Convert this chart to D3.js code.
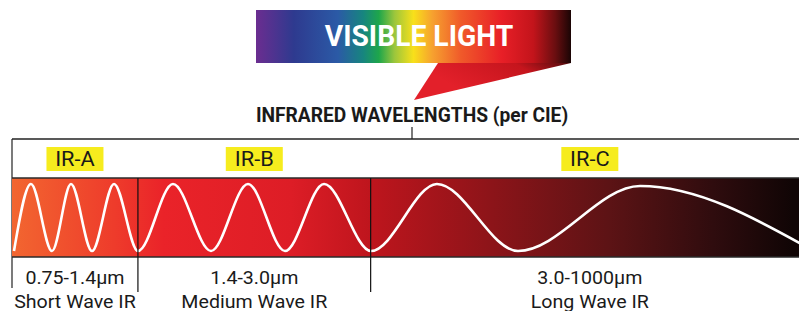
<!DOCTYPE html>
<html>
<head>
<meta charset="utf-8">
<script src="https://cdn.jsdelivr.net/npm/d3@7"></script>
<style>
  body { margin: 0; background: #fff; }
  #visualization { width: 799px; height: 311px; }
  text { font-family: Roboto, 'Liberation Sans', sans-serif; }
</style>
</head>
<body>
<div id="visualization"></div>
<script>
// Band data
const bandNames = ['IR-A', 'IR-B', 'IR-C'];
const bandRanges = ['0.75-1.4µm', '1.4-3.0µm', '3.0-1000µm'];
const bandTitles = ['Short Wave IR', 'Medium Wave IR', 'Long Wave IR'];
const bandEdges = [0, 15.8, 45.0, 100];   // position along the bar, 0-100

// Wave extrema (position along the bar, amplitude -1..1)
const waveX = [0.25, 2.38, 5.02, 7.40, 10.04, 12.80, 15.81, 20.20, 24.97, 29.61, 34.25, 39.15, 45.04, 53.32, 63.49, 78.80, 100.6];
const waveY = [-1, 1, -1, 1, -1, 1, -1, 1, -1, 1, -1, 1, -1, 1, -1, 0.94, -1];

// Text
const spectrumLabel = 'VISIBLE LIGHT';
const titleLabel = 'INFRARED WAVELENGTHS (per CIE)';

class InfraredChart {
    constructor() {
        this.width = 799;
        this.height = 311;
        this.init();
    }

    init() {
        this.svg = d3.select('#visualization')
            .append('svg')
            .attr('width', this.width)
            .attr('height', this.height);

        this.defs = this.svg.append('defs');

        // Scales
        this.x = d3.scaleLinear().domain([0, 100]).range([12, 809]);
        this.y = d3.scaleLinear().domain([-1, 1]).range([251, 184]);
        this.bandTop = 178;
        this.bandBottom = 257;

        this.drawSpectrum();
        this.drawBracket();
        this.drawBand();
        this.drawLabels();
    }

    gradient(id, stops, x2 = '100%', y2 = '0%') {
        const g = this.defs.append('linearGradient')
            .attr('id', id)
            .attr('x1', '0%').attr('y1', '0%')
            .attr('x2', x2).attr('y2', y2);
        g.selectAll('stop')
            .data(stops)
            .enter()
            .append('stop')
            .attr('offset', d => d[0])
            .attr('stop-color', d => d[1]);
    }

    drawSpectrum() {
        this.gradient('spectrum', [
            [0, '#6b2d90'], [0.12, '#2e3a8f'], [0.26, '#2b5aa6'],
            [0.34, '#17857f'], [0.39, '#1ea64b'], [0.44, '#9cc63c'],
            [0.50, '#f8e01a'], [0.56, '#f6a12f'], [0.65, '#f05a2a'],
            [0.78, '#e81f27'], [0.88, '#c3141b'], [0.95, '#6a0e10'], [1, '#1a0505']
        ]);
        this.gradient('pointer', [[0, '#e3202a'], [0.55, '#c5151d'], [1, '#1c0606']], '100%', '-40%');

        const left = 256, right = 571, top = 10, bottom = 63;

        this.svg.append('path')
            .attr('d', `M438,${bottom} L${right},${bottom} L414,100 Z`)
            .attr('fill', 'url(#pointer)');

        this.svg.append('rect')
            .attr('x', left).attr('y', top)
            .attr('width', right - left).attr('height', bottom - top)
            .attr('fill', 'url(#spectrum)');

        this.svg.append('text')
            .attr('transform', 'translate(419,46) scale(0.975,1)')
            .attr('text-anchor', 'middle')
            .attr('fill', '#fff')
            .attr('font-weight', 'bold')
            .attr('font-size', 29)
            .text(spectrumLabel);
    }

    drawBracket() {
        const lineY = 139;
        this.svg.append('text')
            .attr('transform', 'translate(412,122) scale(0.96,1)')
            .attr('text-anchor', 'middle')
            .attr('fill', '#1a1a1a')
            .attr('font-weight', 'bold')
            .attr('font-size', 20)
            .text(titleLabel);

        const stroke = '#222';
        this.svg.append('line')
            .attr('x1', this.x(0)).attr('x2', this.width)
            .attr('y1', lineY).attr('y2', lineY)
            .attr('stroke', stroke).attr('stroke-width', 1.5);
        this.svg.append('line')
            .attr('x1', 412).attr('x2', 412)
            .attr('y1', 127).attr('y2', lineY)
            .attr('stroke', stroke).attr('stroke-width', 1.2);
        this.svg.append('line')
            .attr('x1', this.x(0)).attr('x2', this.x(0))
            .attr('y1', lineY).attr('y2', 288)
            .attr('stroke', stroke).attr('stroke-width', 1.2);
    }

    drawBand() {
        this.gradient('band', [
            [0, '#f26630'], [0.13, '#ee3b2b'], [0.19, '#ea2329'], [0.35, '#dd1d26'],
            [0.45, '#be151d'], [0.60, '#8d1419'], [0.75, '#5c1315'], [0.88, '#2f0c0e'], [0.98, '#100505']
        ]);

        const x0 = this.x(0), x1 = this.x(100);

        this.defs.append('clipPath').attr('id', 'band-clip')
            .append('rect')
            .attr('x', x0).attr('y', this.bandTop)
            .attr('width', x1 - x0).attr('height', this.bandBottom - this.bandTop);

        this.svg.append('rect')
            .attr('x', x0).attr('y', this.bandTop)
            .attr('width', x1 - x0).attr('height', this.bandBottom - this.bandTop)
            .attr('fill', 'url(#band)');

        // Wave
        const points = waveX.map((d, i) => [d, waveY[i]]);
        const line = d3.line()
            .x(d => this.x(d[0]))
            .y(d => this.y(d[1]))
            .curve(d3.curveMonotoneX);

        this.svg.append('path')
            .datum(points)
            .attr('d', line)
            .attr('clip-path', 'url(#band-clip)')
            .attr('fill', 'none')
            .attr('stroke', '#fff')
            .attr('stroke-width', 2.6);

        // Band outline top / bottom
        [this.bandTop, this.bandBottom].forEach(yy => {
            this.svg.append('line')
                .attr('x1', x0).attr('x2', this.width)
                .attr('y1', yy).attr('y2', yy)
                .attr('stroke', '#2a2a2a').attr('stroke-width', 1.5);
        });

        // Dividers between bands
        this.svg.selectAll('.divider')
            .data(bandEdges.slice(1, -1))
            .enter()
            .append('line')
            .attr('class', 'divider')
            .attr('x1', d => this.x(d)).attr('x2', d => this.x(d))
            .attr('y1', this.bandTop).attr('y2', 292)
            .attr('stroke', '#111').attr('stroke-width', 1.2);
    }

    drawLabels() {
        const centers = bandNames.map((d, i) => (this.x(bandEdges[i]) + this.x(bandEdges[i + 1])) / 2);
        const stretch = 1.09;

        // Yellow tags
        const tags = this.svg.selectAll('.tag')
            .data(bandNames)
            .enter()
            .append('g')
            .attr('class', 'tag')
            .attr('transform', (d, i) => `translate(${centers[i]}, 0)`);

        tags.append('rect')
            .attr('x', -28.5).attr('y', 147)
            .attr('width', 57).attr('height', 24)
            .attr('fill', '#f6ec1e');

        tags.append('text')
            .attr('transform', `translate(0,166) scale(${stretch},1)`)
            .attr('text-anchor', 'middle')
            .attr('font-size', 20)
            .attr('fill', '#1a1a1a')
            .text(d => d);

        // Range and name below the bar
        this.svg.selectAll('.range')
            .data(bandRanges)
            .enter()
            .append('text')
            .attr('class', 'range')
            .attr('transform', (d, i) => `translate(${centers[i]},284) scale(${stretch},1)`)
            .attr('text-anchor', 'middle')
            .attr('font-size', 18)
            .attr('fill', '#1a1a1a')
            .text(d => d);

        this.svg.selectAll('.name')
            .data(bandTitles)
            .enter()
            .append('text')
            .attr('class', 'name')
            .attr('transform', (d, i) => `translate(${centers[i]},308) scale(${stretch},1)`)
            .attr('text-anchor', 'middle')
            .attr('font-size', 18)
            .attr('fill', '#1a1a1a')
            .text(d => d);
    }
}

document.addEventListener('DOMContentLoaded', () => {
    const chart = new InfraredChart();
});
</script>
</body>
</html>
